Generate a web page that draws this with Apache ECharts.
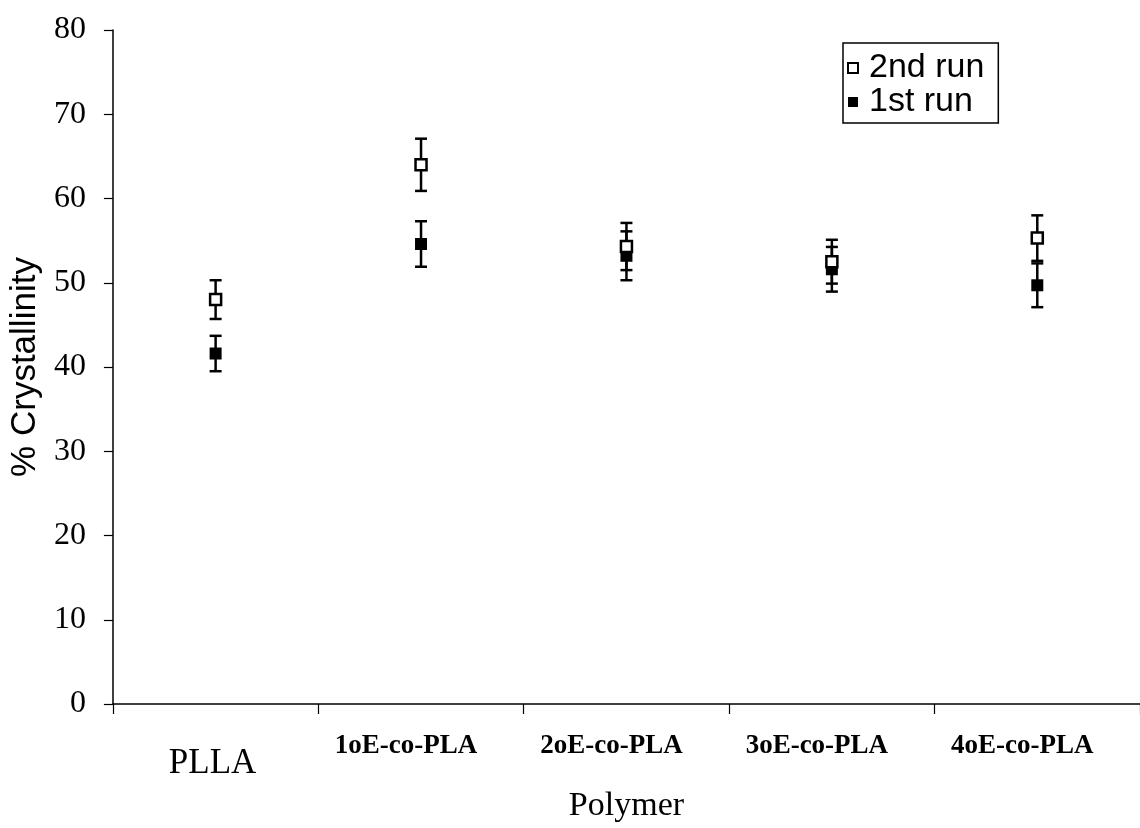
<!DOCTYPE html>
<html>
<head>
<meta charset="utf-8">
<script src="https://cdn.jsdelivr.net/npm/echarts@6/dist/echarts.min.js"></script>
<style>
  html, body { margin: 0; padding: 0; background: #fff; }
  #chart { width: 1140px; height: 828px; }
</style>
</head>
<body>
<div id="chart"></div>
<script>
// Polymers measured
const categories = ['PLLA', '1oE-co-PLA', '2oE-co-PLA', '3oE-co-PLA', '4oE-co-PLA'];

// % crystallinity, second heating run, with error (±)
const run2Values = [48.0, 64.0, 54.3, 52.5, 55.3];
const run2Errors = [2.3, 3.1, 2.8, 2.6, 2.7];

// % crystallinity, first heating run, with error (±)
const run1Values = [41.6, 54.6, 53.2, 51.6, 49.7];
const run1Errors = [2.1, 2.7, 2.9, 2.65, 2.6];

// y-axis range
const yMin = 0, yMax = 80, yStep = 10;

const serif = '"Liberation Serif", "Times New Roman", serif';
const sans = '"Liberation Sans", Arial, sans-serif';

function errorData(values, errors) {
  return values.map((v, i) => [i, v - errors[i], v + errors[i]]);
}

// vertical whisker with short caps at both ends
function renderErrorBar(params, api) {
  const x = api.value(0);
  const lo = api.coord([x, api.value(1)]);
  const hi = api.coord([x, api.value(2)]);
  const half = 6;
  const style = { stroke: '#000', lineWidth: 2.5, fill: null };
  return {
    type: 'group',
    children: [
      { type: 'line', shape: { x1: hi[0], y1: hi[1], x2: lo[0], y2: lo[1] }, style },
      { type: 'line', shape: { x1: hi[0] - half, y1: hi[1], x2: hi[0] + half, y2: hi[1] }, style },
      { type: 'line', shape: { x1: lo[0] - half, y1: lo[1], x2: lo[0] + half, y2: lo[1] }, style }
    ]
  };
}

const chart = echarts.init(document.getElementById('chart'), null, { renderer: 'canvas' });

chart.setOption({
  animation: false,
  backgroundColor: '#fff',
  grid: { left: 107, right: -9, top: 30, bottom: 117, containLabel: false },
  legend: {
    data: ['2nd run', '1st run'],
    orient: 'vertical',
    left: 843,
    top: 43,
    borderColor: '#000',
    borderWidth: 1.5,
    borderRadius: 0,
    padding: [8, 14, 4, 4],
    itemGap: 0,
    itemWidth: 10,
    itemHeight: 10,
    textStyle: { fontFamily: sans, fontSize: 34, lineHeight: 30, color: '#000', padding: [0, 0, 0, 6] }
  },
  xAxis: {
    type: 'category',
    data: categories,
    boundaryGap: true,
    axisLine: { lineStyle: { color: '#000', width: 1.5 } },
    axisTick: { show: true, inside: false, length: 10, lineStyle: { color: '#000', width: 1.2 } },
    splitLine: { show: false },
    axisLabel: {
      margin: 27,
      color: '#000',
      interval: 0,
      formatter: (v) => v === 'PLLA' ? '{big|' + v + '}' : '{small|' + v + '}',
      rich: {
        big: { fontFamily: serif, fontSize: 35, lineHeight: 36, padding: [29, 6, 0, 0], color: '#000' },
        small: { fontFamily: serif, fontSize: 27, fontWeight: 'bold', lineHeight: 30, padding: [0, 30, 0, 0], color: '#000' }
      }
    },
    name: 'Polymer',
    nameLocation: 'middle',
    nameGap: 85,
    nameTextStyle: { fontFamily: serif, fontSize: 34, color: '#000' }
  },
  yAxis: {
    type: 'value',
    min: yMin,
    max: yMax,
    interval: yStep,
    axisLine: { show: true, lineStyle: { color: '#000', width: 1.5 } },
    axisTick: { show: true, inside: false, length: 9, lineStyle: { color: '#000', width: 1.2 } },
    splitLine: { show: false },
    axisLabel: { margin: 27, fontFamily: serif, fontSize: 32, color: '#000' },
    name: '% Crystallinity',
    nameLocation: 'middle',
    nameGap: 51,
    nameRotate: 90,
    nameTextStyle: { fontFamily: sans, fontSize: 35, color: '#000' }
  },
  series: [
    {
      name: '2nd run err',
      type: 'custom',
      renderItem: renderErrorBar,
      data: errorData(run2Values, run2Errors),
      encode: { x: 0, y: [1, 2] },
      z: 2
    },
    {
      name: '1st run err',
      type: 'custom',
      renderItem: renderErrorBar,
      data: errorData(run1Values, run1Errors),
      encode: { x: 0, y: [1, 2] },
      z: 2
    },
    {
      name: '2nd run',
      type: 'scatter',
      data: run2Values,
      symbol: 'rect',
      symbolSize: 11,
      itemStyle: { color: '#fff', borderColor: '#000', borderWidth: 2.5, opacity: 1 },
      z: 4
    },
    {
      name: '1st run',
      type: 'scatter',
      data: run1Values,
      symbol: 'rect',
      symbolSize: 12,
      itemStyle: { color: '#000', borderColor: '#000', borderWidth: 0, opacity: 1 },
      z: 3
    }
  ]
});
</script>
</body>
</html>
